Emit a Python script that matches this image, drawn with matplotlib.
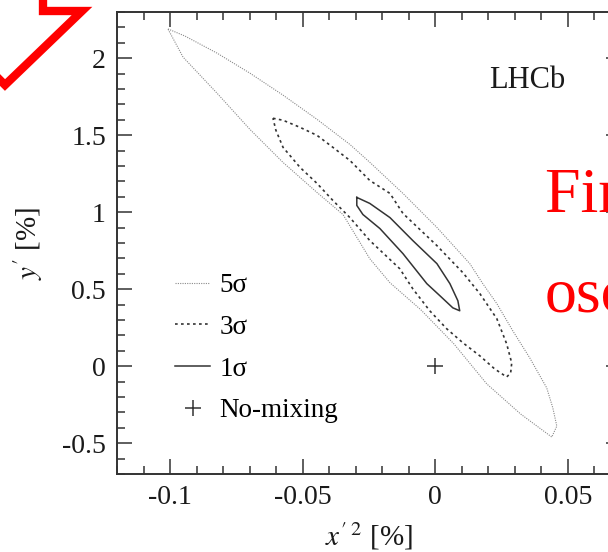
import numpy as np
import matplotlib
matplotlib.use("Agg")
import matplotlib.pyplot as plt
from matplotlib.lines import Line2D

plt.rcParams['font.family'] = ['Liberation Serif', 'DejaVu Serif']
plt.rcParams['mathtext.fontset'] = 'stix'
plt.rcParams['axes.unicode_minus'] = False

# contours: x'^2 [%], y' [%]
sig5_x = [-0.1008, -0.0944, -0.0823, -0.0699, -0.0574, -0.0446, -0.0322, -0.0247, -0.0122, 0.0006,
          0.0130, 0.0179, 0.0232, 0.0292, 0.0356, 0.0420, 0.0443, 0.0458, 0.0439,
          0.0322, 0.0194, 0.0070, -0.0055, -0.0171, -0.0247, -0.0348, -0.0446, -0.0574, -0.0699,
          -0.0823, -0.0951, -0.1008]
sig5_y = [2.190, 2.144, 2.033, 1.903, 1.760, 1.603, 1.440, 1.324, 1.122, 0.901,
          0.666, 0.536, 0.406, 0.230, 0.054, -0.141, -0.271, -0.389, -0.460,
          -0.311, -0.115, 0.145, 0.367, 0.542, 0.698, 0.985, 1.128, 1.323, 1.538,
          1.773, 2.007, 2.190]

sig3_x = [-0.0612, -0.0574, -0.0510, -0.0446, -0.0386, -0.0322, -0.0247, -0.0171, -0.0122, 0.0006,
          0.0104, 0.0168, 0.0232, 0.0269, 0.0288, 0.0284, 0.0269, 0.0224, 0.0168, 0.0104,
          0.0043, -0.0021, -0.0085, -0.0134, -0.0247, -0.0322, -0.0386, -0.0446, -0.0510,
          -0.0574, -0.0601, -0.0612]
sig3_y = [1.610, 1.597, 1.551, 1.499, 1.421, 1.336, 1.206, 1.122, 0.992, 0.783,
          0.607, 0.471, 0.308, 0.145, 0.021, -0.044, -0.070, -0.018, 0.067, 0.152,
          0.243, 0.360, 0.503, 0.633, 0.816, 0.965, 1.076, 1.187, 1.291,
          1.421, 1.532, 1.610]

sig1_x = [-0.0296, -0.0247, -0.0171, -0.0085, 0.0006, 0.0055, 0.0085, 0.0092, 0.0066, 0.0017,
          -0.0032, -0.0122, -0.0209, -0.0273, -0.0296, -0.0296]
sig1_y = [1.096, 1.057, 0.965, 0.816, 0.666, 0.536, 0.425, 0.360, 0.379, 0.458,
          0.536, 0.731, 0.894, 0.985, 1.044, 1.096]

nomix_x = [0.0]
nomix_y = [0.0]

fig = plt.figure(figsize=(6.08, 5.52), dpi=100)
ax = fig.add_axes([117/608, 78/552, 504/608, 462/552])

ax.plot(sig5_x, sig5_y, color='#8a8a8a', lw=0.8, dashes=(1.0, 1.1), label='5σ')
ax.plot(sig3_x, sig3_y, color='#333333', lw=1.2, dashes=(1.6, 2.0), label='3σ')
ax.plot(sig1_x, sig1_y, color='#333333', lw=1.1, label='1σ')
ax.plot(nomix_x, nomix_y, ls='none', marker='+', ms=12, mew=1.1, color='#333333', label='No-mixing')

ax.set_xlim(-0.12, 0.07)
ax.set_ylim(-0.7, 2.3)
ax.set_xticks([-0.1, -0.05, 0, 0.05])
ax.set_xticklabels(['-0.1', '-0.05', '0', '0.05'])
ax.set_yticks([-0.5, 0, 0.5, 1, 1.5, 2])
ax.set_yticklabels(['-0.5', '0', '0.5', '1', '1.5', '2'])
ax.set_xticks(np.arange(-0.12, 0.071, 0.01), minor=True)
ax.set_yticks(np.arange(-0.7, 2.31, 0.1), minor=True)
ax.tick_params(which='both', direction='in', top=True, right=True, colors='#333333',
               labelcolor='#1a1a1a', labelsize=20, width=1.1)
ax.tick_params(which='major', length=11, pad=8)
ax.tick_params(which='minor', length=6)
for s in ax.spines.values():
    s.set_linewidth(1.4)
    s.set_color('#333333')

ax.set_xlabel(r"$x'^{\,2}$ [%]", fontsize=21, color='#1a1a1a', labelpad=7)
ax.set_ylabel(r"$y'$ [%]", fontsize=21, color='#1a1a1a', labelpad=12)

ax.text(0.738, 0.835, 'LHCb', transform=ax.transAxes, fontsize=22, color='#1a1a1a', va='baseline')

ax.legend(loc='upper left', bbox_to_anchor=(0.115, 0.435), frameon=False, fontsize=19.5,
          borderpad=0, borderaxespad=0, handlelength=1.3, handletextpad=0.35, labelspacing=0.62)

# red slide overlay
px = [43, 43, 82, 5, -6]
py = [-2, 11, 11, 85, 74]
fig.add_artist(Line2D([p/608 for p in px], [1 - p/552 for p in py], transform=fig.transFigure,
                      color='red', lw=6, solid_joinstyle='miter'))
fig.text(545/608, 1 - 212/552, 'First observation of', fontsize=46, color='red', va='baseline')
fig.text(545/608, 1 - 312/552, 'oscillations', fontsize=46, color='red', va='baseline')

fig.savefig('out.png', dpi=100)
